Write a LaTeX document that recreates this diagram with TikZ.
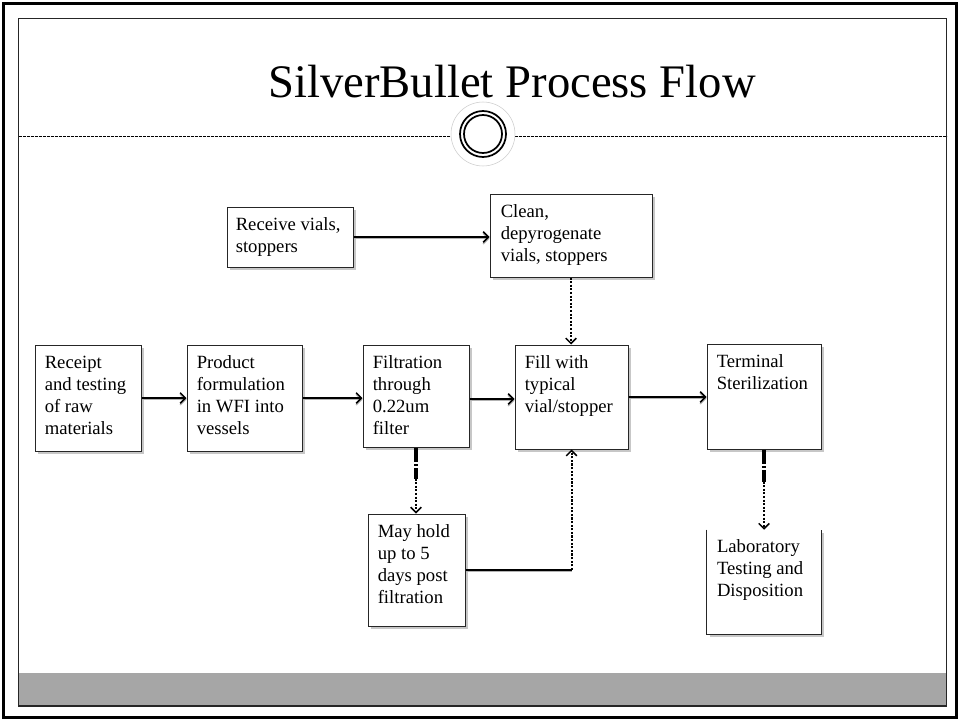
\documentclass[tikz,border=0pt]{standalone}
\usepackage{fontspec}
\setmainfont{Liberation Serif}
\usetikzlibrary{arrows.meta,calc,shadows}
\definecolor{bandgray}{RGB}{166,166,166}
\begin{document}
\begin{tikzpicture}[x=0.75pt,y=-0.75pt,
  box/.style={draw=black!85, line width=0.75pt, fill=white, inner sep=0pt,
    drop shadow={shadow xshift=2.25pt, shadow yshift=-2.25pt, fill=black!22, opacity=1}},
  openbox/.style={draw=none, fill=white, inner sep=0pt,
    drop shadow={shadow xshift=2.25pt, shadow yshift=-2.25pt, fill=black!22, opacity=1}},
  txt/.style={anchor=base west, inner sep=0pt, font=\fontsize{14}{16.5}\selectfont},
  tip/.style={-{Straight Barb[length=4pt,width=8pt,line width=1.1pt]}},
  arr/.style={tip, line width=1.5pt, preaction={draw=black!30, transform canvas={yshift=-1.2pt}}},
  plainline/.style={line width=1.5pt, preaction={draw=black!30, transform canvas={yshift=-1.2pt}}},
  dotarr/.style={tip, line width=1.5pt, dash pattern=on 1.6pt off 1.1pt},
  thickdash/.style={line width=3pt, dash pattern=on 11pt off 1.5pt on 1.5pt off 1.5pt on 9pt}
]
\useasboundingbox (0,0) rectangle (960,721);
% frame
\fill[white] (0,0) rectangle (960,721);
\draw[line width=2.25pt] (3.5,3.5) rectangle (956.5,717.5);
\fill[bandgray] (18.5,673) rectangle (946.5,706);
\draw[black!85, line width=0.9pt] (18.5,18.5) rectangle (946.5,706);
% header
\node (title) [anchor=base, inner sep=0pt, font=\fontsize{35}{40}\selectfont] at (512,97) {SilverBullet Process Flow};
\draw[dash pattern=on 2.25pt off 0.75pt, line width=0.6pt] (18.5,136) -- (946.5,136);
\draw[black!20, fill=white, line width=0.4pt] (483,134) circle[radius=24pt];
\draw[line width=1.3pt] (483,134) circle[radius=17.25pt];
\draw[line width=1.3pt] (483,134) circle[radius=14.25pt];
% boxes
\node[box, minimum width=94.5pt, minimum height=45pt] (recv) at (290,237) {};
\node[box, minimum width=121.5pt, minimum height=62.25pt] (clean) at (571,235.5) {};
\node[box, minimum width=79.5pt, minimum height=79.5pt] (receipt) at (88,398) {};
\node[box, minimum width=86.25pt, minimum height=79.5pt] (product) at (244.5,398) {};
\node[box, minimum width=79.5pt, minimum height=76.5pt] (filt) at (416,396) {};
\node[box, minimum width=84.75pt, minimum height=78pt] (fill) at (571.5,397) {};
\node[box, minimum width=85.5pt, minimum height=78.75pt] (term) at (764,396.5) {};
\node[box, minimum width=72.75pt, minimum height=84pt] (hold) at (416.5,570) {};
\node[openbox, minimum width=85.5pt, minimum height=78pt] (lab) at (764,582) {};
\draw[black!85, line width=0.75pt] (lab.north west) -- (lab.south west) -- (lab.south east) -- (lab.north east);
% texts
\node[txt] (recvT) at ([shift={(9,23.5)}]recv.north west) {\parbox[t]{4cm}{\raggedright Receive vials,\\stoppers}};
\node[txt] (cleanT) at ([shift={(11,24)}]clean.north west) {\parbox[t]{4cm}{\raggedright Clean,\\depyrogenate\\vials, stoppers}};
\node[txt] (receiptT) at ([shift={(10,24)}]receipt.north west) {\parbox[t]{4cm}{\raggedright Receipt\\and testing\\of raw\\materials}};
\node[txt] (productT) at ([shift={(10,24)}]product.north west) {\parbox[t]{4cm}{\raggedright Product\\formulation\\in WFI into\\vessels}};
\node[txt] (filtT) at ([shift={(10,24)}]filt.north west) {\parbox[t]{4cm}{\raggedright Filtration\\through\\0.22um\\filter}};
\node[txt] (fillT) at ([shift={(10,24)}]fill.north west) {\parbox[t]{4cm}{\raggedright Fill with\\typical\\vial/stopper}};
\node[txt] (termT) at ([shift={(10,24)}]term.north west) {\parbox[t]{4cm}{\raggedright Terminal\\Sterilization}};
\node[txt] (holdT) at ([shift={(10,23.5)}]hold.north west) {\parbox[t]{4cm}{\raggedright May hold\\up to 5\\days post\\filtration}};
\node[txt] (labT) at ([shift={(10,23)}]lab.north west) {\parbox[t]{4cm}{\raggedright Laboratory\\Testing and\\Disposition}};
% connectors
\draw[arr] (receipt.east) -- (product.west);
\draw[arr] (product.east) -- (product.east -| filt.west);
\coordinate (a1) at ($(filt.east)+(0,3)$);
\draw[arr] (a1) -- (a1 -| fill.west);
\draw[arr] (fill.east) -- (fill.east -| term.west);
\draw[arr] (recv.east) -- (recv.east -| clean.west);
\draw[dotarr] (clean.south) -- (clean.south |- fill.north);
\coordinate (fh) at ($(filt.south)+(0,31)$);
\draw[thickdash] (filt.south) -- (fh);
\draw[dotarr] (fh) -- (fh |- hold.north);
\coordinate (tl) at ($(term.south)+(0,32)$);
\draw[thickdash] (term.south) -- (tl);
\draw[dotarr] (tl) -- (tl |- lab.north);
\coordinate (hc) at (hold.east -| fill.south);
\draw[plainline] (hold.east) -- (hc);
\draw[dotarr] (hc) -- (fill.south);
\end{tikzpicture}
\end{document}
